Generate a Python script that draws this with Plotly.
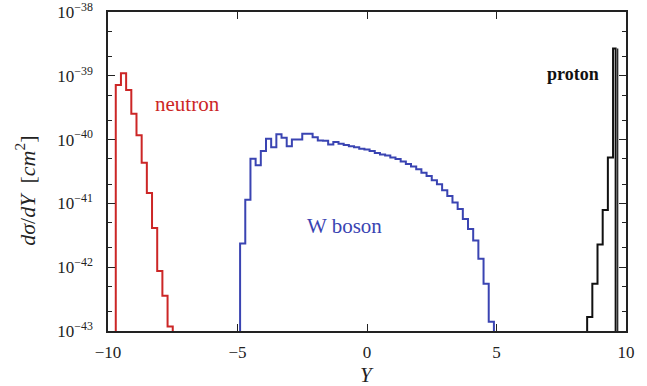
import numpy as np
import plotly.graph_objects as go

# ---------------- data ----------------
FLOOR = 1e-45  # below axis range, so steps drop to the axis

neutron_edges = [-9.7, -9.5, -9.3, -9.1, -8.9, -8.7, -8.5, -8.3, -8.1, -7.9, -7.7, -7.5]
neutron_vals = [7.2e-40, 1.1e-39, 6.0e-40, 2.55e-40, 1.17e-40, 4.35e-41,
                1.45e-41, 4.1e-42, 8.7e-43, 3.55e-43, 1.17e-43]

w_edges = list(np.round(np.linspace(-4.9, 4.9, 50), 2))
w_vals = [2.35e-42, 1.14e-41, 5.0e-41, 3.95e-41, 6.6e-41, 1.03e-40, 7.6e-41,
          1.21e-40, 1.07e-40, 7.9e-41, 1.0e-40, 1.0e-40, 1.23e-40, 1.23e-40,
          1.09e-40, 9.7e-41, 9.6e-41, 8.4e-41, 9.2e-41, 8.6e-41, 8.2e-41,
          7.9e-41, 7.6e-41, 7.2e-41, 6.97e-41, 6.6e-41, 6.14e-41, 5.82e-41,
          5.61e-41, 5.22e-41, 4.95e-41, 4.53e-41, 4.14e-41, 3.78e-41, 3.42e-41,
          3.03e-41, 2.69e-41, 2.31e-41, 2.0e-41, 1.61e-41, 1.31e-41, 1.03e-41,
          8.15e-42, 5.7e-42, 3.98e-42, 2.61e-42, 1.36e-42, 5.5e-43, 1.4e-43]

proton_edges = [8.5, 8.7, 8.9, 9.1, 9.3, 9.5, 9.6]
proton_vals = [1.66e-43, 5.5e-43, 2.26e-42, 7.9e-42, 5.26e-41, 2.68e-39]
proton_limit = 9.68

labels = ["neutron", "W boson", "<b>proton</b>"]
label_x = [-6.93, -0.85, 7.97]
label_y = [3.56e-40, 4.48e-42, 1.08e-39]

x_ticks = [-10, -5, 0, 5, 10]
x_ticktext = ["−10", "−5", "0", "5", "10"]
y_ticks = [1e-43, 1e-42, 1e-41, 1e-40, 1e-39, 1e-38]
y_ticktext = ["10<sup>−43</sup>", "10<sup>−42</sup>", "10<sup>−41</sup>",
              "10<sup>−40</sup>", "10<sup>−39</sup>", "10<sup>−38</sup>"]
y_minor = [m * 10.0 ** e for e in range(-43, -38) for m in (2, 5)]

RED = "#cc2626"
BLUE = "#3a44b2"
BLACK = "#111111"
label_colors = [RED, BLUE, BLACK]
label_sizes = [21, 21, 18]
SERIF = "Liberation Serif, DejaVu Serif, serif"
AX = "#222222"


def step_xy(edges, vals):
    e = np.asarray(edges, dtype=float)
    v = np.asarray(vals, dtype=float)
    xs = np.concatenate([[e[0]], e])
    ys = np.concatenate([[FLOOR], v, [FLOOR]])
    return xs, ys


fig = go.Figure()
for edges, vals, col in [(neutron_edges, neutron_vals, RED),
                         (w_edges, w_vals, BLUE),
                         (proton_edges, proton_vals, BLACK)]:
    xs, ys = step_xy(edges, vals)
    fig.add_trace(go.Scatter(x=xs, y=ys, mode="lines", line_shape="hv",
                             line=dict(color=col, width=2), showlegend=False,
                             hoverinfo="skip"))

# thin kinematic-limit line next to the proton peak
fig.add_trace(go.Scatter(x=[proton_limit, proton_limit], y=[FLOOR, proton_vals[-1]],
                         mode="lines", line=dict(color=BLACK, width=1.2),
                         showlegend=False, hoverinfo="skip"))

for t, xv, yv, c, s in zip(labels, label_x, label_y, label_colors, label_sizes):
    fig.add_annotation(x=xv, y=np.log10(yv), xref="x", yref="y", text=t,
                       showarrow=False, font=dict(family=SERIF, size=s, color=c))

# axis titles
fig.add_annotation(x=-0.16, y=0.44, xref="paper", yref="paper", textangle=-90,
                   xanchor="center", yanchor="middle",
                   text="<i>dσ</i>/<i>dY</i>  [<i>cm</i><sup>2</sup>]", showarrow=False,
                   font=dict(family=SERIF, size=22, color=AX))
fig.add_annotation(x=0.5, y=-0.138, xref="paper", yref="paper", text="<i>Y</i>",
                   xanchor="center", yanchor="middle",
                   showarrow=False, font=dict(family=SERIF, size=21, color=AX))

axis_common = dict(showline=True, linecolor=AX, linewidth=1.5, mirror="ticks",
                   ticks="inside", tickcolor=AX, showgrid=False, zeroline=False,
                   automargin=False, ticklabeloverflow="allow",
                   tickfont=dict(family=SERIF, size=17, color=AX))

fig.update_xaxes(range=[-10, 10], tickvals=x_ticks, ticktext=x_ticktext,
                 ticklen=7, tickwidth=1.2, ticklabelstandoff=5, **axis_common)
fig.update_yaxes(type="log", range=[-43.0005, -37.9995], tickvals=y_ticks, ticktext=y_ticktext,
                 ticklen=7, tickwidth=1.2, ticklabelstandoff=10,
                 minor=dict(tickvals=y_minor, ticks="inside", ticklen=4,
                            tickcolor=AX, tickwidth=1),
                 **axis_common)

fig.update_layout(template="none", width=647, height=386,
                  margin=dict(l=108, r=21, t=12, b=55, autoexpand=False),
                  paper_bgcolor="white", plot_bgcolor="white", showlegend=False)

fig.write_html("out.html", config={"displayModeBar": False},
               post_script="document.body.style.margin='0';document.body.style.overflow='hidden';")
